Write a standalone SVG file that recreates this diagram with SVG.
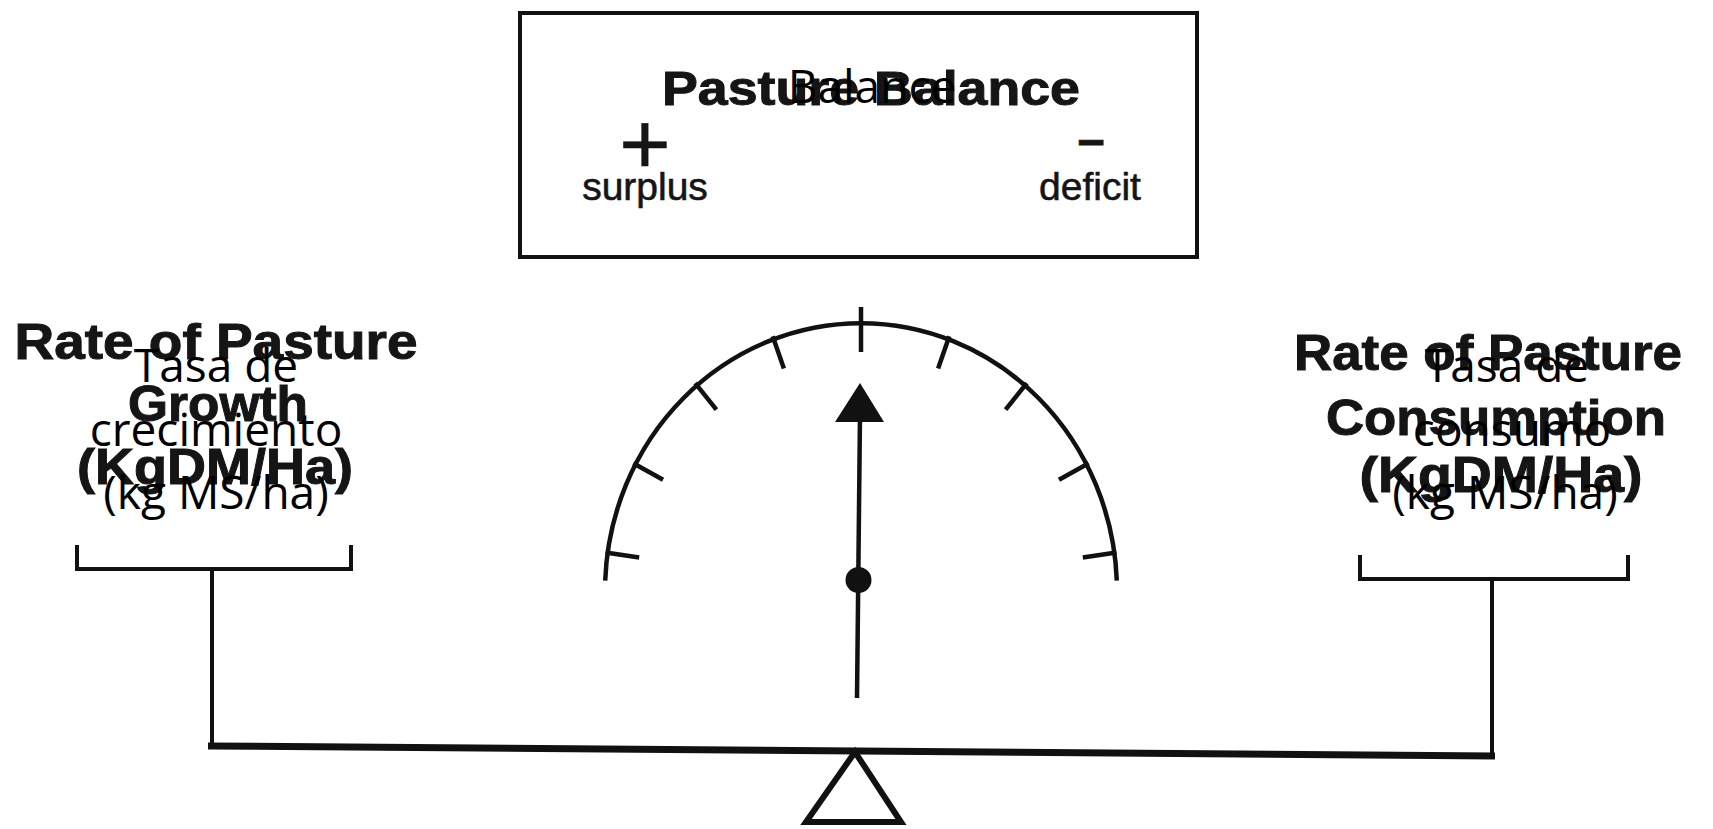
<svg xmlns="http://www.w3.org/2000/svg" width="1713" height="829" viewBox="0 0 1713 829">
<style>
.en{font-family:"Liberation Sans",Arial,sans-serif;font-weight:bold;fill:#151515;stroke:#151515;stroke-width:1;text-anchor:middle}
.sm{font-family:"Liberation Sans",Arial,sans-serif;fill:#151515;text-anchor:middle;stroke:#151515;stroke-width:0.6}
.es{font-family:"Open Sans","Noto Sans",sans-serif;fill:#000;text-anchor:middle;font-size:46px}
.ln{stroke:#111;fill:none;stroke-linecap:butt}
</style>
<rect width="1713" height="829" fill="#fff"/>

<g id="balance-box">
  <rect x="520" y="13" width="677" height="244" class="ln" stroke-width="4"/>
  <text class="en" x="871" y="105" font-size="48" textLength="418" lengthAdjust="spacingAndGlyphs">Pasture Balance</text>
  <text class="es" x="872" y="103">Balance</text>
  <text class="sm" x="645" y="174" font-size="88" stroke-width="0">+</text>
  <text class="sm" x="645" y="200" font-size="39">surplus</text>
  <text class="en" x="1091" y="156" font-size="48" stroke-width="0">–</text>
  <text class="sm" x="1090" y="200" font-size="39">deficit</text>
</g>

<g id="growth-label">
  <text class="en" x="216" y="359" font-size="50" textLength="403" lengthAdjust="spacingAndGlyphs">Rate of Pasture</text>
  <text class="en" x="218" y="421" font-size="50" textLength="180" lengthAdjust="spacingAndGlyphs">Growth</text>
  <text class="en" x="215" y="484" font-size="50" textLength="276" lengthAdjust="spacingAndGlyphs" fill="#2a2a2a" stroke="#2a2a2a">(KgDM/Ha)</text>
  <text class="es" x="216" y="382">Tasa de</text>
  <text class="es" x="216" y="446">crecimiento</text>
  <text class="es" x="216" y="509">(kg MS/ha)</text>
  <path class="ln" stroke-width="4" d="M77 545 V569 H351 V545"/>
</g>

<g id="consumption-label">
  <text class="en" x="1488" y="370" font-size="50" textLength="388" lengthAdjust="spacingAndGlyphs">Rate of Pasture</text>
  <text class="en" x="1496" y="435" font-size="50" textLength="340" lengthAdjust="spacingAndGlyphs">Consumption</text>
  <text class="en" x="1501" y="492" font-size="50" textLength="283" lengthAdjust="spacingAndGlyphs" fill="#2a2a2a" stroke="#2a2a2a">(KgDM/Ha)</text>
  <text class="es" x="1507" y="382">Tasa de</text>
  <text class="es" x="1512" y="446">consumo</text>
  <text class="es" x="1505" y="509">(kg MS/ha)</text>
  <path class="ln" stroke-width="4" d="M1360 555 V579 H1628 V555"/>
</g>

<g id="gauge">
  <path class="ln" stroke-width="4.5" d="M605.2 580.6 A256 268 0 0 1 1116.8 580.6"/>
  <g class="ln" stroke-width="4.5">
    <line x1="605.5" y1="552.4" x2="639.2" y2="557.4"/>
    <line x1="633.3" y1="463.2" x2="663.0" y2="479.8"/>
    <line x1="695.2" y1="383.1" x2="716.4" y2="409.7"/>
    <line x1="772.7" y1="336.3" x2="783.9" y2="368.4"/>
    <line x1="861" y1="307" x2="861" y2="352"/>
    <line x1="949.3" y1="336.3" x2="938.1" y2="368.4"/>
    <line x1="1026.8" y1="383.1" x2="1005.6" y2="409.7"/>
    <line x1="1088.7" y1="463.2" x2="1059.0" y2="479.8"/>
    <line x1="1116.5" y1="552.4" x2="1082.8" y2="557.4"/>
  </g>
  <line class="ln" stroke-width="4.5" x1="860" y1="415" x2="857" y2="698"/>
  <polygon points="860,383 835,422 884,422" fill="#111"/>
  <circle cx="858.5" cy="580" r="13" fill="#111"/>
</g>

<g id="fulcrum">
  <polygon points="855,752 806,822 901,822" fill="#fff" stroke="#111" stroke-width="6" stroke-linejoin="miter"/>
</g>

<g id="connectors">
  <line class="ln" stroke-width="4" x1="212" y1="569" x2="212" y2="747"/>
  <line class="ln" stroke-width="4" x1="1492" y1="579" x2="1492" y2="757"/>
  <line class="ln" stroke-width="7" x1="208" y1="746" x2="1495" y2="756"/>
</g>
</svg>
